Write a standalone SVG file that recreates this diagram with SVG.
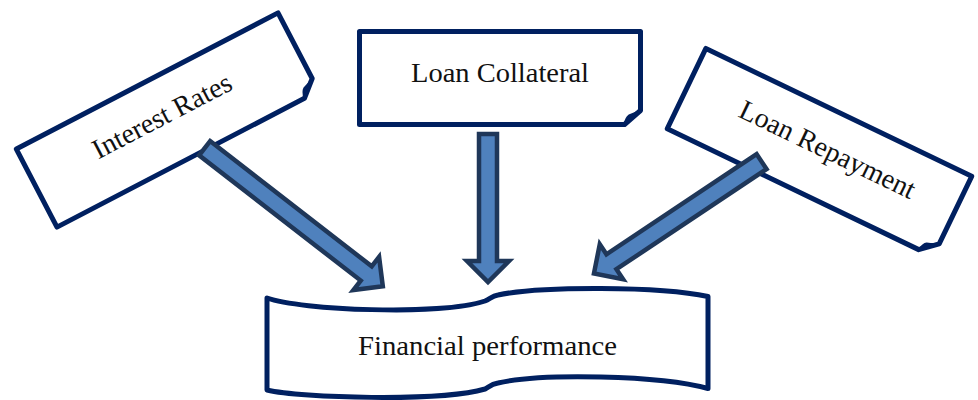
<svg xmlns="http://www.w3.org/2000/svg" width="978" height="400" viewBox="0 0 978 400">
  <style>
    .box { fill: #ffffff; stroke: #002060; stroke-width: 5; stroke-linejoin: round; }
    .fold { fill: #002060; stroke: #002060; stroke-width: 2; stroke-linejoin: round; }
    .label { font-family: "Liberation Serif", "Times New Roman", serif; font-size: 28px; fill: #111111; text-anchor: middle; }
    .arrow { fill: #4f81bd; stroke: #1f3759; stroke-width: 4.5; stroke-linejoin: miter; stroke-miterlimit: 10; }
  </style>

  <rect width="978" height="400" fill="#ffffff"/>

  <!-- Folded-corner note: Interest Rates -->
  <g id="interest-rates" transform="translate(167.5 120) rotate(-27.5)">
    <path class="box" d="M-147.5,-44 H147.5 V30 L131.5,44 H-147.5 Z"/>
    <path class="fold" d="M131.5,44 Q133,37 136,35 Q141,33.5 147.5,30 Z"/>
    <text class="label" x="-3" y="3">Interest Rates</text>
  </g>

  <!-- Folded-corner note: Loan Collateral -->
  <g id="loan-collateral" transform="translate(500 78)">
    <path class="box" d="M-140.5,-46.5 H140.5 V32.5 L124.5,46.5 H-140.5 Z"/>
    <path class="fold" d="M124.5,46.5 Q126,39.5 129,37.5 Q134,36 140.5,32.5 Z"/>
    <text class="label" x="0" y="4" textLength="178" lengthAdjust="spacingAndGlyphs">Loan Collateral</text>
  </g>

  <!-- Folded-corner note: Loan Repayment -->
  <g id="loan-repayment" transform="translate(819.5 152.5) rotate(25.7)">
    <path class="box" d="M-147.5,-44.5 H147.5 V30.5 L131.5,44.5 H-147.5 Z"/>
    <path class="fold" d="M131.5,44.5 Q133,37.5 136,35.5 Q141,34 147.5,30.5 Z"/>
    <text class="label" x="6" y="3">Loan Repayment</text>
  </g>

  <!-- Double-wave banner: Financial performance -->
  <g id="financial-performance">
    <path class="box" d="M267,298 C300,310 440,316 485,301 C490,299 492,296 498,295 C540,286 660,286 708,296.5 L708,388.5 C660,375 540,373 498,383 C492,384 490,386 485,389 C440,402 300,398 267,390 Z"/>
    <text class="label" x="487.5" y="355" textLength="259" lengthAdjust="spacingAndGlyphs">Financial performance</text>
  </g>

  <!-- Block arrows into the banner -->
  <g id="connectors">
    <polygon class="arrow" transform="translate(204.6 148.2) rotate(37.78)" points="0,-9 204.5,-9 204.5,-21 225.5,0 204.5,21 204.5,9 0,9"/>
    <polygon class="arrow" transform="translate(488 134) rotate(90)" points="0,-9 127,-9 127,-21 148,0 127,21 127,9 0,9"/>
    <polygon class="arrow" transform="translate(761.6 161.6) rotate(146.3)" points="0,-9 180.5,-9 180.5,-21 201.5,0 180.5,21 180.5,9 0,9"/>
  </g>
</svg>
